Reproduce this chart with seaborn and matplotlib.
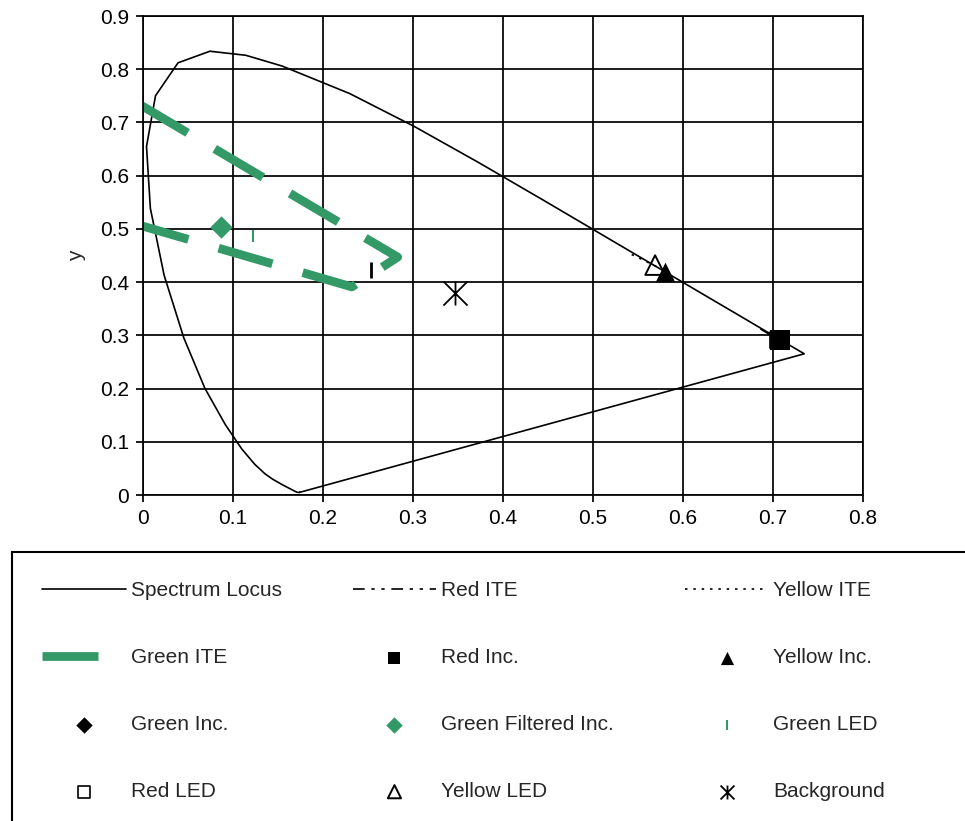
import numpy as np
import seaborn as sns
import matplotlib.pyplot as plt
from matplotlib.path import Path
from matplotlib.patches import Rectangle

# CIE 1931 spectrum locus (closed back to the violet end)
locus_x = [0.1741, 0.1733, 0.1714, 0.1689, 0.1644, 0.1566, 0.1440, 0.1355, 0.1241,
           0.1096, 0.0913, 0.0687, 0.0454, 0.0235, 0.0082, 0.0039, 0.0139, 0.0389,
           0.0743, 0.1142, 0.1547, 0.2296, 0.3016, 0.3731, 0.4441, 0.5125, 0.5752,
           0.6270, 0.6658, 0.6915, 0.7079, 0.7190, 0.7260, 0.7347, 0.1741]
locus_y = [0.0050, 0.0048, 0.0051, 0.0069, 0.0109, 0.0177, 0.0297, 0.0399, 0.0578,
           0.0868, 0.1327, 0.2007, 0.2950, 0.4127, 0.5384, 0.6548, 0.7502, 0.8120,
           0.8338, 0.8262, 0.8059, 0.7543, 0.6923, 0.6245, 0.5547, 0.4866, 0.4242,
           0.3725, 0.3340, 0.3083, 0.2920, 0.2809, 0.2740, 0.2653, 0.0050]

# ITE regions
green_ite_x = [-0.004, 0.283, 0.232, -0.004]
green_ite_y = [0.734, 0.447, 0.391, 0.507]
red_ite_x = [0.686, 0.705]
red_ite_y = [0.312, 0.293]
yellow_ite_x = [0.543, 0.572]
yellow_ite_y = [0.452, 0.428]
green_ite_tick_x = [0.253]
green_ite_tick_y = [0.423]

# point sources
red_inc = ([0.708], [0.291])
yellow_inc = ([0.580], [0.419])
green_inc = ([0.087], [0.504])
green_filt_inc = ([0.087], [0.504])
green_led = ([0.122], [0.487])
red_led = ([0.706], [0.291])
yellow_led = ([0.569], [0.432])
background = ([0.347], [0.380])

xticks = [0, 0.1, 0.2, 0.3, 0.4, 0.5, 0.6, 0.7, 0.8]
xtick_labels = ["0", "0.1", "0.2", "0.3", "0.4", "0.5", "0.6", "0.7", "0.8"]
yticks = [0, 0.1, 0.2, 0.3, 0.4, 0.5, 0.6, 0.7, 0.8, 0.9]
ytick_labels = ["0", "0.1", "0.2", "0.3", "0.4", "0.5", "0.6", "0.7", "0.8", "0.9"]

sns.set_style("white")
plt.rcParams['font.family'] = ['Liberation Sans', 'DejaVu Sans']

GREEN = '#339966'
W, H = 965, 821

fig = plt.figure(figsize=(W / 100, H / 100), dpi=100)
ax = fig.add_axes([143 / W, 1 - 495 / H, 720 / W, 479 / H])

sns.lineplot(x=locus_x, y=locus_y, sort=False, estimator=None, color='black',
             lw=1.2, label='Spectrum Locus', legend=False, ax=ax)
sns.lineplot(x=red_ite_x, y=red_ite_y, sort=False, estimator=None, color='black',
             lw=1.2, linestyle=(0, (7, 4, 2, 4, 2, 4)), label='Red ITE',
             legend=False, ax=ax)
sns.lineplot(x=yellow_ite_x, y=yellow_ite_y, sort=False, estimator=None, color='black',
             lw=1.2, linestyle=(0, (1.5, 3.5)), label='Yellow ITE', legend=False, ax=ax)
sns.lineplot(x=green_ite_x, y=green_ite_y, sort=False, estimator=None, color=GREEN,
             lw=6.3, linestyle=(0, (6.4, 3.6)), label='Green ITE', legend=False, ax=ax)
for ln in ax.get_lines():
    ln.set_dash_capstyle('butt')
sns.scatterplot(x=green_ite_tick_x, y=green_ite_tick_y, marker='|', s=130,
                color='black', linewidth=2, legend=False, ax=ax)

# star-like "Background" marker: X with a vertical stroke
star = Path([(-1, -1), (1, 1), (-1, 1), (1, -1), (0, -1), (0, 1)],
            [Path.MOVETO, Path.LINETO, Path.MOVETO, Path.LINETO, Path.MOVETO, Path.LINETO])

sns.scatterplot(x=red_led[0], y=red_led[1], marker='s', s=120, color='white',
                edgecolor='black', linewidth=1.2, label='Red LED', legend=False, ax=ax)
sns.scatterplot(x=red_inc[0], y=red_inc[1], marker='s', s=200, color='black',
                edgecolor='black', linewidth=0, label='Red Inc.', legend=False, ax=ax)
sns.scatterplot(x=yellow_led[0], y=yellow_led[1], marker='^', s=200, color='none',
                edgecolor='black', linewidth=1.4, label='Yellow LED', legend=False, ax=ax)
sns.scatterplot(x=yellow_inc[0], y=yellow_inc[1], marker='^', s=200, color='black',
                edgecolor='black', linewidth=0, label='Yellow Inc.', legend=False, ax=ax)
sns.scatterplot(x=green_inc[0], y=green_inc[1], marker='D', s=90, color='black',
                edgecolor='black', linewidth=0, label='Green Inc.', legend=False, ax=ax)
sns.scatterplot(x=green_filt_inc[0], y=green_filt_inc[1], marker='D', s=130, color=GREEN,
                edgecolor=GREEN, linewidth=0, label='Green Filtered Inc.', legend=False, ax=ax)
sns.scatterplot(x=green_led[0], y=green_led[1], marker='|', s=75, color=GREEN,
                linewidth=1.5, label='Green LED', legend=False, ax=ax)
sns.scatterplot(x=background[0], y=background[1], marker=star, s=300, color='black',
                edgecolor='black', linewidth=1.3, label='Background', legend=False, ax=ax)

ax.set_xlim(0, 0.8)
ax.set_ylim(0, 0.9)
ax.set_xticks(xticks)
ax.set_xticklabels(xtick_labels)
ax.set_yticks(yticks)
ax.set_yticklabels(ytick_labels)
ax.set_xlabel('')
ax.set_ylabel('y', fontsize=15, labelpad=10)
ax.grid(True, color='black', lw=1.25)
ax.set_axisbelow(True)
for sp in ax.spines.values():
    sp.set_visible(True)
    sp.set_color('black')
    sp.set_linewidth(1.25)
ax.tick_params(axis='both', direction='out', length=5, width=1.25, color='black',
               labelsize=15, labelcolor='black', bottom=True, left=True, pad=5)

# legend, ordered column by column so rows read like the original
handles, labels = ax.get_legend_handles_labels()
lookup = dict(zip(labels, handles))
order = ['Spectrum Locus', 'Green ITE', 'Green Inc.', 'Red LED',
         'Red ITE', 'Red Inc.', 'Green Filtered Inc.', 'Yellow LED',
         'Yellow ITE', 'Yellow Inc.', 'Green LED', 'Background']
leg = fig.legend([lookup[k] for k in order], order, loc='upper left',
                 bbox_to_anchor=(32 / W, 1 - 571 / H), bbox_transform=fig.transFigure,
                 ncol=3, frameon=False, borderpad=0, fontsize=15,
                 handlelength=4.0, handletextpad=0.25, columnspacing=3.4,
                 labelspacing=2.3, scatterpoints=1)
small = {'Red LED': 80, 'Red Inc.': 80, 'Yellow LED': 90, 'Yellow Inc.': 90,
         'Green Inc.': 70, 'Green Filtered Inc.': 70, 'Green LED': 60, 'Background': 100}
for h, lab in zip(leg.legend_handles, order):
    if lab in small:
        h.set_sizes([small[lab]])

fig.patches.append(Rectangle((12 / W, -0.05), 1.0, (1 - 552 / H) + 0.05,
                             transform=fig.transFigure, fill=False,
                             edgecolor='black', linewidth=1.5))

fig.savefig('out.png', dpi=100, facecolor='white')
